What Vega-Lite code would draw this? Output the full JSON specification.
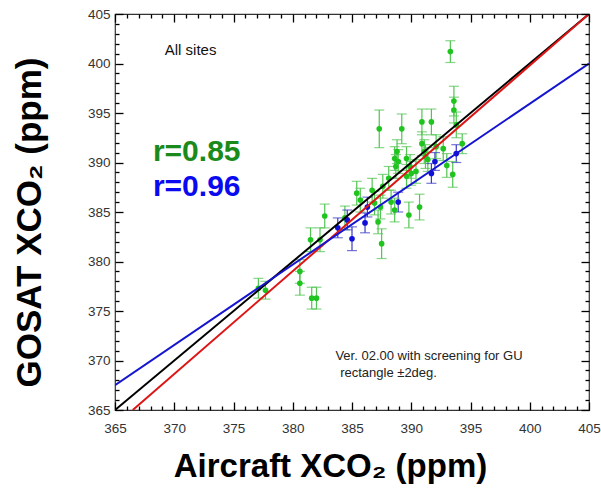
{
  "$schema": "https://vega.github.io/schema/vega-lite/v6.json",
  "width": 474,
  "height": 396,
  "autosize": {"type": "none"},
  "padding": {"left": 115, "top": 14, "right": 12, "bottom": 82},
  "background": "white",
  "config": {
    "view": {"stroke": "#333", "strokeWidth": 1.2},
    "font": "Liberation Sans"
  },
  "datasets": {
    "pts": [
      {"series": "all", "x": 393.3, "y": 401.2, "lo": 400.1, "hi": 402.3},
      {"series": "all", "x": 393.6, "y": 396.2, "lo": 394.7, "hi": 397.7},
      {"series": "all", "x": 393.6, "y": 395.3, "lo": 394.0, "hi": 396.6},
      {"series": "all", "x": 393.8, "y": 393.8, "lo": 392.5, "hi": 395.1},
      {"series": "all", "x": 387.3, "y": 393.4, "lo": 391.5, "hi": 395.3},
      {"series": "all", "x": 389.2, "y": 393.4, "lo": 391.9, "hi": 394.9},
      {"series": "all", "x": 390.9, "y": 394.1, "lo": 392.8, "hi": 395.4},
      {"series": "all", "x": 391.7, "y": 394.1, "lo": 392.8, "hi": 395.4},
      {"series": "all", "x": 388.8, "y": 391.1, "lo": 389.9, "hi": 392.3},
      {"series": "all", "x": 388.7, "y": 389.6, "lo": 388.4, "hi": 390.8},
      {"series": "all", "x": 389.6, "y": 390.4, "lo": 389.2, "hi": 391.6},
      {"series": "all", "x": 390.9, "y": 391.9, "lo": 390.7, "hi": 393.1},
      {"series": "all", "x": 391.1, "y": 391.1, "lo": 389.9, "hi": 392.3},
      {"series": "all", "x": 391.4, "y": 390.3, "lo": 389.1, "hi": 391.5},
      {"series": "all", "x": 392.1, "y": 391.6, "lo": 390.4, "hi": 392.8},
      {"series": "all", "x": 392.7, "y": 391.4, "lo": 390.2, "hi": 392.6},
      {"series": "all", "x": 393.0, "y": 389.7, "lo": 388.5, "hi": 390.9},
      {"series": "all", "x": 393.5, "y": 388.8, "lo": 387.5, "hi": 390.1},
      {"series": "all", "x": 394.3, "y": 391.9, "lo": 390.9, "hi": 392.9},
      {"series": "all", "x": 390.4, "y": 389.1, "lo": 387.9, "hi": 390.3},
      {"series": "all", "x": 390.0, "y": 388.9, "lo": 387.7, "hi": 390.1},
      {"series": "all", "x": 390.7, "y": 385.5, "lo": 384.2, "hi": 386.8},
      {"series": "all", "x": 389.8, "y": 384.7, "lo": 383.4, "hi": 386.0},
      {"series": "all", "x": 388.6, "y": 385.2, "lo": 384.0, "hi": 386.4},
      {"series": "all", "x": 387.4, "y": 385.5, "lo": 384.3, "hi": 386.7},
      {"series": "all", "x": 386.7, "y": 387.2, "lo": 386.0, "hi": 388.4},
      {"series": "all", "x": 387.6, "y": 387.6, "lo": 386.4, "hi": 388.8},
      {"series": "all", "x": 385.7, "y": 386.2, "lo": 385.0, "hi": 387.4},
      {"series": "all", "x": 382.7, "y": 384.6, "lo": 383.4, "hi": 385.8},
      {"series": "all", "x": 384.4, "y": 384.4, "lo": 383.2, "hi": 385.6},
      {"series": "all", "x": 387.2, "y": 384.0, "lo": 382.8, "hi": 385.2},
      {"series": "all", "x": 388.1, "y": 388.4, "lo": 387.2, "hi": 389.6},
      {"series": "all", "x": 388.9, "y": 390.1, "lo": 388.9, "hi": 391.3},
      {"series": "all", "x": 381.5, "y": 382.2, "lo": 381.0, "hi": 383.4},
      {"series": "all", "x": 382.3, "y": 382.2, "lo": 381.0, "hi": 383.4},
      {"series": "all", "x": 380.6, "y": 379.0, "lo": 377.8, "hi": 380.2},
      {"series": "all", "x": 380.6, "y": 377.8, "lo": 376.6, "hi": 379.0},
      {"series": "all", "x": 377.1, "y": 377.3, "lo": 376.3, "hi": 378.3},
      {"series": "all", "x": 377.7, "y": 377.1, "lo": 376.2, "hi": 378.0},
      {"series": "all", "x": 381.6, "y": 376.3, "lo": 375.2, "hi": 377.4},
      {"series": "all", "x": 382.0, "y": 376.3, "lo": 375.2, "hi": 377.4},
      {"series": "all", "x": 387.5, "y": 381.8, "lo": 380.3, "hi": 383.3},
      {"series": "all", "x": 385.4, "y": 386.9, "lo": 385.7, "hi": 388.1},
      {"series": "all", "x": 386.9, "y": 385.9, "lo": 384.7, "hi": 387.1},
      {"series": "all", "x": 388.3, "y": 386.0, "lo": 384.8, "hi": 387.2},
      {"series": "all", "x": 389.6, "y": 388.6, "lo": 387.4, "hi": 389.8},
      {"series": "all", "x": 389.9, "y": 389.6, "lo": 388.4, "hi": 390.8},
      {"series": "all", "x": 391.2, "y": 390.6, "lo": 389.4, "hi": 391.8},
      {"series": "all", "x": 388.6, "y": 390.4, "lo": 389.2, "hi": 391.6},
      {"series": "screened", "x": 393.8, "y": 390.9, "lo": 390.0, "hi": 391.8},
      {"series": "screened", "x": 392.0, "y": 390.1, "lo": 389.2, "hi": 391.0},
      {"series": "screened", "x": 391.7, "y": 388.9, "lo": 387.9, "hi": 389.9},
      {"series": "screened", "x": 388.9, "y": 386.0, "lo": 385.0, "hi": 387.0},
      {"series": "screened", "x": 386.3, "y": 385.5, "lo": 384.5, "hi": 386.5},
      {"series": "screened", "x": 386.1, "y": 383.9, "lo": 382.9, "hi": 384.9},
      {"series": "screened", "x": 384.6, "y": 384.2, "lo": 383.2, "hi": 385.2},
      {"series": "screened", "x": 385.0, "y": 382.3, "lo": 381.1, "hi": 383.5},
      {"series": "screened", "x": 383.8, "y": 383.4, "lo": 382.4, "hi": 384.4}
    ],
    "lines": [
      {"line": "1:1", "x": 365, "y": 365},
      {"line": "1:1", "x": 405, "y": 405},
      {"line": "fit all", "x": 366.5, "y": 365},
      {"line": "fit all", "x": 405, "y": 405},
      {"line": "fit screened", "x": 365, "y": 367.5},
      {"line": "fit screened", "x": 405, "y": 400}
    ]
  },
  "resolve": {
    "axis": {"x": "independent", "y": "independent"}
  },
  "layer": [
    {
      "data": {"name": "pts"},
      "mark": {"type": "rule", "strokeWidth": 1.2},
      "encoding": {
        "x": {"field": "x", "type": "quantitative", "scale": {"domain": [365, 405], "nice": false, "zero": false}, "axis": null},
        "y": {"field": "lo", "type": "quantitative", "scale": {"domain": [365, 405], "nice": false, "zero": false}, "axis": null},
        "y2": {"field": "hi"},
        "color": {"condition": {"test": "datum.series === 'all'", "value": "#52c452"}, "value": "#3a3ac8"}
      }
    },
    {
      "data": {"name": "pts"},
      "mark": {"type": "tick", "orient": "horizontal", "size": 10, "thickness": 1.2},
      "encoding": {
        "x": {"field": "x", "type": "quantitative", "axis": null},
        "y": {"field": "lo", "type": "quantitative", "axis": null},
        "color": {"condition": {"test": "datum.series === 'all'", "value": "#52c452"}, "value": "#3a3ac8"}
      }
    },
    {
      "data": {"name": "pts"},
      "mark": {"type": "tick", "orient": "horizontal", "size": 10, "thickness": 1.2},
      "encoding": {
        "x": {"field": "x", "type": "quantitative", "axis": null},
        "y": {"field": "hi", "type": "quantitative", "axis": null},
        "color": {"condition": {"test": "datum.series === 'all'", "value": "#52c452"}, "value": "#3a3ac8"}
      }
    },
    {
      "data": {"name": "pts"},
      "mark": {"type": "circle", "size": 32, "opacity": 1},
      "encoding": {
        "x": {"field": "x", "type": "quantitative",
          "axis": {
            "orient": "bottom",
            "zindex": 1,
            "values": [365,366,367,368,369,370,371,372,373,374,375,376,377,378,379,380,381,382,383,384,385,386,387,388,389,390,391,392,393,394,395,396,397,398,399,400,401,402,403,404,405],
            "labelExpr": "datum.value % 5 === 0 ? datum.label : ''",
            "labelOverlap": false,
            "labelFlush": false,
            "domain": false, "grid": false, "ticks": true,
            "tickColor": "#000", "tickWidth": 1.3, "tickOpacity": 1,
            "tickSize": {"condition": {"test": "datum.value % 5 === 0", "value": -8}, "value": -4},
            "labelFont": "Liberation Sans", "labelFontSize": 13.5, "labelColor": "#333",
            "labelPadding": 19,
            "title": "Aircraft XCO₂ (ppm)",
            "titleFont": "Liberation Sans", "titleFontSize": 33, "titleFontWeight": "bold", "titleColor": "#000",
            "titlePadding": 12,
            "titleX": 215
          }
        },
        "y": {"field": "y", "type": "quantitative",
          "axis": {
            "orient": "left",
            "zindex": 1,
            "values": [365,366,367,368,369,370,371,372,373,374,375,376,377,378,379,380,381,382,383,384,385,386,387,388,389,390,391,392,393,394,395,396,397,398,399,400,401,402,403,404,405],
            "labelExpr": "datum.value % 5 === 0 ? datum.label : ''",
            "labelOverlap": false,
            "labelFlush": false,
            "domain": false, "grid": false, "ticks": true,
            "tickColor": "#000", "tickWidth": 1.3, "tickOpacity": 1,
            "tickSize": {"condition": {"test": "datum.value % 5 === 0", "value": -8}, "value": -4},
            "labelFont": "Liberation Sans", "labelFontSize": 13.5, "labelColor": "#333",
            "labelPadding": 13,
            "title": "GOSAT XCO₂ (ppm)",
            "titleFont": "Liberation Sans", "titleFontSize": 35, "titleFontWeight": "bold", "titleColor": "#000",
            "titlePadding": 40,
            "titleY": 208
          }
        },
        "color": {"condition": {"test": "datum.series === 'all'", "value": "#1fc41f"}, "value": "#1010d8"}
      }
    },
    {
      "data": {"name": "lines"},
      "mark": {"type": "line", "strokeWidth": 2, "clip": true},
      "encoding": {
        "x": {"field": "x", "type": "quantitative",
          "axis": {
            "orient": "top",
            "zindex": 1,
            "values": [365,366,367,368,369,370,371,372,373,374,375,376,377,378,379,380,381,382,383,384,385,386,387,388,389,390,391,392,393,394,395,396,397,398,399,400,401,402,403,404,405],
            "labels": false, "domain": false, "grid": false, "title": null, "ticks": true,
            "tickColor": "#000", "tickWidth": 1.3, "tickOpacity": 1,
            "tickSize": {"condition": {"test": "datum.value % 5 === 0", "value": -8}, "value": -4}
          }
        },
        "y": {"field": "y", "type": "quantitative",
          "axis": {
            "orient": "right",
            "zindex": 1,
            "values": [365,366,367,368,369,370,371,372,373,374,375,376,377,378,379,380,381,382,383,384,385,386,387,388,389,390,391,392,393,394,395,396,397,398,399,400,401,402,403,404,405],
            "labels": false, "domain": false, "grid": false, "title": null, "ticks": true,
            "tickColor": "#000", "tickWidth": 1.3, "tickOpacity": 1,
            "tickSize": {"condition": {"test": "datum.value % 5 === 0", "value": -8}, "value": -4}
          }
        },
        "detail": {"field": "line", "type": "nominal"},
        "color": {"condition": [{"test": "datum.line === '1:1'", "value": "#000000"}, {"test": "datum.line === 'fit all'", "value": "#dd1515"}], "value": "#1515d0"},
        "order": {"field": "x"}
      }
    },
    {
      "data": {"values": [{"label": "All sites"}]},
      "mark": {"type": "text", "align": "left", "baseline": "middle", "fontSize": 15, "font": "Liberation Sans", "color": "#111"},
      "encoding": {"x": {"datum": 369.2, "axis": null}, "y": {"datum": 401.4, "axis": null}, "text": {"field": "label"}}
    },
    {
      "data": {"values": [{"label": "r=0.85"}]},
      "mark": {"type": "text", "align": "left", "baseline": "middle", "fontSize": 30, "fontWeight": "bold", "font": "Liberation Sans", "color": "#1a8a1a"},
      "encoding": {"x": {"datum": 368.2, "axis": null}, "y": {"datum": 391.1, "axis": null}, "text": {"field": "label"}}
    },
    {
      "data": {"values": [{"label": "r=0.96"}]},
      "mark": {"type": "text", "align": "left", "baseline": "middle", "fontSize": 30, "fontWeight": "bold", "font": "Liberation Sans", "color": "#0a0af0"},
      "encoding": {"x": {"datum": 368.2, "axis": null}, "y": {"datum": 387.5, "axis": null}, "text": {"field": "label"}}
    },
    {
      "data": {"values": [{"label": "Ver. 02.00 with screening for GU"}]},
      "mark": {"type": "text", "align": "left", "baseline": "middle", "fontSize": 13, "font": "Liberation Sans", "color": "#222"},
      "encoding": {"x": {"datum": 383.6, "axis": null}, "y": {"datum": 370.5, "axis": null}, "text": {"field": "label"}}
    },
    {
      "data": {"values": [{"label": "rectangle ±2deg."}]},
      "mark": {"type": "text", "align": "left", "baseline": "middle", "fontSize": 13, "font": "Liberation Sans", "color": "#222"},
      "encoding": {"x": {"datum": 384.0, "axis": null}, "y": {"datum": 368.7, "axis": null}, "text": {"field": "label"}}
    }
  ]
}
